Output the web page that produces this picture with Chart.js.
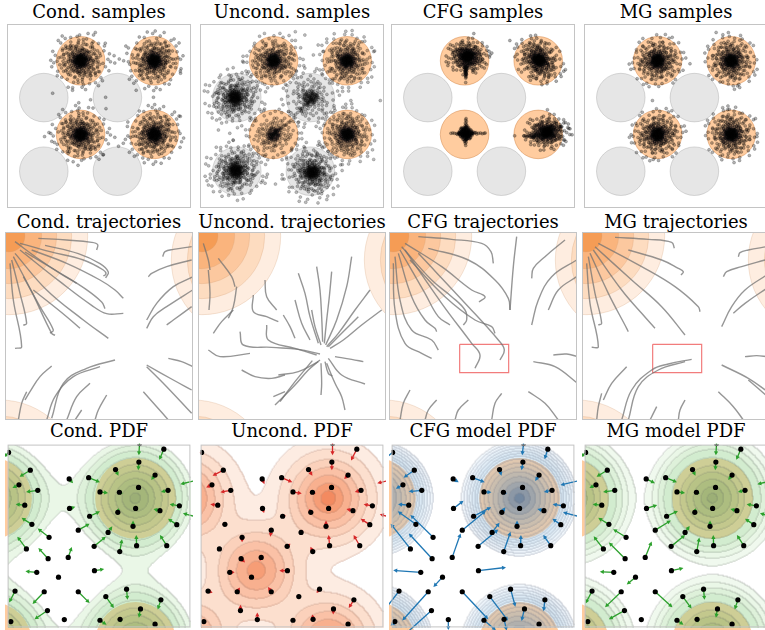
<!DOCTYPE html>
<html>
<head>
<meta charset="utf-8">
<title>Guidance comparison</title>
<script src="https://cdn.jsdelivr.net/npm/chart.js@4.4.1/dist/chart.umd.min.js"></script>
<style>
  html, body { margin: 0; padding: 0; background: #fff; }
  body { position: relative; width: 765px; height: 630px; overflow: hidden; font-family: "DejaVu Serif", serif; }
  .panel { position: absolute; width: 188px; height: 188px; }
  .panel canvas { display: block; }
  .title { position: absolute; width: 240px; text-align: center; font-size: 18px; line-height: 20px; color: #000; white-space: nowrap; }
</style>
</head>
<body>
<script>
const TITLES = [
  ["Cond. samples", "Uncond. samples", "CFG samples", "MG samples"],
  ["Cond. trajectories", "Uncond. trajectories", "CFG trajectories", "MG trajectories"],
  ["Cond. PDF", "Uncond. PDF", "CFG model PDF", "MG model PDF"]
];

// ---------- row 1: samples in the 2-D data space (units 0..5) ----------
const COND_MODES = [[2, 4], [4, 4], [2, 2], [4, 2]];
const OTHER_MODES = [[1, 3], [3, 3], [1, 1], [3, 1]];
const MODE_RADIUS = 0.66;

// one generic sample cloud, offsets in hundredths of a unit
const CLOUD = [
  [0,0],[3,-2],[-4,3],[6,5],[-7,-4],[2,8],[-2,-9],[9,-1],[-10,1],[5,-7],
  [-6,7],[11,4],[-12,-3],[1,12],[-1,-13],[8,9],[-9,-8],[12,-6],[-13,6],[4,1],
  [-3,-1],[7,-11],[-8,11],[13,10],[-11,-12],[0,5],[2,-5],[-5,0],[10,-9],[-1,10],
  [6,12],[-7,-13],[14,-2],[-14,2],[3,14],[-4,-14],[9,3],[-9,-2],[4,-10],[-5,9],
  [1,-3],[-2,2],[12,7],[-12,-7],[7,-4],[-6,4],[15,-8],[-15,9],[8,14],[-8,-15],
  [3,6],[-4,-6],[11,-13],[-10,12],[2,-15],[-3,15],[16,2],[-16,-1],[5,3],[-5,-3],
  [1,1],[-1,-2],[4,-4],[-4,5],[7,2],[-7,-1],[2,-7],[-3,8],[10,6],[-10,-5],
  [6,-9],[-6,10],[12,1],[-12,0],[0,-11],[1,11],[8,-6],[-8,7],[5,10],[-5,-10],
  [20,5],[-22,-6],[18,-14],[-17,15],[5,24],[-6,-23],[25,-8],[-24,9],[12,21],[-13,-22],
  [26,14],[-25,-13],[8,-27],[-9,28],[21,19],[-20,-21],[30,2],[-29,-3],[3,31],[-2,-30],
  [17,-25],[-18,26],[27,-17],[-28,16],[14,-31],[-15,30],[31,11],[-32,-10],[22,-21],[-23,22],
  [6,-19],[-7,19],[19,8],[-18,-9],[33,-4],[-33,5],[10,33],[-11,-32],[24,26],[-26,-24],
  [16,-18],[-16,20],[28,22],[-30,-20],[4,-34],[-5,34],[34,-14],[-34,13],[20,-29],[-21,30],
  [29,-25],[-27,27],[13,17],[-14,-18],[23,4],[-21,2],[0,-22],[1,21],[-19,-16],[17,17],
  [35,6],[-35,-7],[9,-24],[-10,25],[26,-1],
  [40,10],[-42,-8],[38,-22],[-36,24],[12,44],[-14,-43],[45,-5],[-44,6],[25,38],[-27,-37],
  [47,20],[-46,-21],[6,-48],[-7,49],[36,35],[-38,-33],[50,-12],[-51,11],[18,-46],[-20,47],
  [41,-34],[-40,36],[-2,52],[3,-53],[55,3],[-54,-4],[30,-44],[-31,45],[48,30],[-47,-30],
  [15,55],[-16,-54],[57,-20],[-56,19],[36,-50],[-37,50],[-58,-12],[58,14],[26,52],[-25,-53],
  [44,-40],[-45,41],[60,-2],[-60,1],[10,-58]
];

// clusters: [centre x, centre y, spread x, spread y, rotation in degrees]; two draws per mode
const COND_CLUSTERS = [
  [2, 4, 1.35, 1.35, 0], [2, 4, 0.95, 0.95, 137], [4, 4, 1.35, 1.35, 90], [4, 4, 0.95, 0.95, 227],
  [2, 2, 1.35, 1.35, 180], [2, 2, 0.95, 0.95, 317], [4, 2, 1.35, 1.35, 270], [4, 2, 0.95, 0.95, 47]];
const COND_STRAY = [[2.40,4.77],[2.67,4.48],[3.23,4.40],[2.91,4.14],[3.05,4.05],[3.17,4.00],[2.93,3.94],[3.51,3.20],
  [3.98,3.01],[2.68,3.01],[2.69,2.70],[2.27,2.94],[1.95,2.86],[1.78,3.20],[1.24,3.12],[4.04,2.66],[4.71,2.49],
  [1.02,1.94],[1.14,2.05],[1.29,1.78],[2.93,1.92],[3.16,1.76],[3.03,1.68],[1.64,1.54],[1.93,1.16],[2.62,1.45],
  [3.69,1.36],[4.80,1.90],[4.71,3.72],[1.36,3.99]];

const UNCOND_CLUSTERS = [
  [2, 4, 1.35, 1.35, 45], [2, 4, 0.95, 0.95, 200], [4, 4, 1.35, 1.35, 135], [4, 4, 0.95, 0.95, 290],
  [2, 2, 1.25, 1.25, 225], [4, 2, 1.35, 1.35, 315], [4, 2, 0.95, 0.95, 100],
  [0.95, 3.0, 1.4, 1.4, 30], [0.95, 3.0, 0.95, 0.95, 250], [3, 3, 1.35, 1.35, 120],
  [0.97, 1.02, 1.4, 1.4, 210], [0.97, 1.02, 0.95, 0.95, 70], [3.05, 0.97, 1.4, 1.4, 300], [3.05, 0.97, 0.95, 0.95, 160]];
const UNCOND_STREAK = [[1.72,1.78],[1.78,1.82],[1.83,1.86],[1.88,1.90],[1.92,1.93],[1.96,1.97],[2.00,2.00],[2.03,2.04],
  [2.07,2.06],[2.10,2.10],[2.14,2.12],[2.18,2.16],[2.22,2.19],[2.26,2.22],[2.30,2.25],[2.34,2.27],[1.90,1.95],[1.95,1.90],
  [2.05,2.10],[2.10,2.03],[2.15,2.18],[2.20,2.12],[2.00,1.94],[1.94,2.00],[2.40,2.33],[2.47,2.38],[2.55,2.45],[2.60,2.55],
  [2.66,2.60],[2.72,2.66],[2.78,2.70],[2.84,2.76],[2.90,2.80],[2.95,2.86],[3.00,2.90],[3.04,2.95],[3.08,2.98],[3.12,3.02],
  [3.16,3.05],[3.20,3.10],[2.88,2.85],[2.93,2.78],[3.00,2.96],[3.05,2.90],[3.10,3.08],[2.82,2.82],[2.98,3.02],[3.14,2.98],
  [2.70,2.72],[2.76,2.64]];
const UNCOND_STRAY = [[2.59,4.79],[2.85,4.70],[3.21,4.43],[3.08,4.16],[3.34,4.25],[1.16,3.99],[0.85,3.59],[0.59,3.41],
  [1.25,3.72],[1.74,3.81],[0.45,2.39],[0.50,2.12],[0.81,2.03],[0.90,1.85],[0.72,1.68],[0.99,1.41],[1.79,1.45],[0.28,0.92],
  [0.19,0.74],[1.70,0.74],[1.83,0.92],[2.05,0.65],[2.23,0.79],[3.56,3.72],[3.83,3.54],[3.88,2.74],[4.10,2.92],[3.30,1.68],
  [3.48,1.54],[4.72,1.32],[4.90,2.92],[4.72,4.25],[2.05,1.68],[2.23,1.50],[2.85,1.63]];

const CFG_CLUSTERS = [
  [2.08, 4.12, 1.0, 0.85, 15], [2.08, 4.12, 0.7, 0.6, 160],
  [4.02, 4.02, 1.25, 1.0, -35], [4.02, 4.02, 0.9, 0.75, 120],
  [2.03, 2.03, 0.3, 0.3, 0],
  [4.24, 2.06, 1.05, 0.85, 10], [4.24, 2.06, 0.7, 0.6, 200]];
// sharpened shapes around three of the modes (hundredths, relative to the anchor)
const CFG_SPIKE = [[0,-10],[3,-12],[-3,-14],[1,-16],[-2,-18],[4,-20],[0,-21],[-4,-22],[2,-24],[-1,-26],[3,-28],[0,-30],
  [-2,-31],[1,-33],[2,-36],[-1,-38],[0,-40],[1,-43],[0,-46],[5,-15],[-5,-17],[6,-12],[-6,-10],[2,-19],[-2,-27],[1,-23],
  [-1,-29],[0,-35]];
const CFG_CROSS = [[0,12],[2,16],[-2,20],[1,24],[-1,28],[2,32],[0,36],[1,40],[-3,14],[3,22],[0,-12],[2,-16],[-2,-20],
  [1,-24],[-1,-28],[0,-33],[3,-14],[-3,-22],[12,0],[16,2],[20,-1],[25,1],[30,-2],[35,0],[40,1],[45,-1],[50,0],[53,1],
  [14,-3],[22,3],[28,2],[-12,0],[-16,-2],[-20,1],[-25,-1],[-30,0],[-35,1],[-40,0],[-14,3],[-22,-3],[8,8],[-8,-8],
  [10,-6],[-6,10],[7,-10],[-10,5],[1,18],[0,-18],[18,0],[-18,0]];
const CFG_TAIL = [[-20,-5],[-25,-6],[-30,-7],[-35,-7],[-40,-7],[-45,-8],[-50,-7],[-55,-7],[-22,-2],[-28,-9],[-33,-4],
  [-38,-10],[-42,-5],[-30,-12],[-24,2],[-20,-10],[-15,-4],[-18,0]];
const CFG_SHAPES = [[[2.03, 3.99], CFG_SPIKE], [[2.03, 2.03], CFG_CROSS], [[4.16, 2.03], CFG_TAIL]];
const CFG_STRAY = [[2.25,4.74],[3.23,4.55],[2.74,4.21],[2.69,4.16],[4.74,3.76],[2.03,3.41],[4.25,2.67],[4.74,2.32],
  [4.83,2.16],[4.92,1.99],[4.69,1.85],[3.36,1.96],[4.60,2.21]];

const MG_CLUSTERS = [
  [2, 4, 1.25, 1.25, 60], [2, 4, 0.9, 0.9, 190], [4, 4, 1.25, 1.25, 150], [4, 4, 0.9, 0.9, 280],
  [2, 2, 1.25, 1.25, 240], [2, 2, 0.9, 0.9, 10], [4, 2, 1.25, 1.25, 330], [4, 2, 0.9, 0.9, 100]];
const MG_STRAY = [[3.59,4.77],[2.88,3.92],[1.86,2.92],[1.28,1.99],[4.66,2.43],[4.70,1.94],[4.17,3.32],[1.88,1.32],
  [3.90,2.67],[4.12,2.74]];

// ---------- row 2: trajectories, zoomed view (units 0..56.4, y down) ----------
const FLOW_RINGS = [
  { c: [1.2, 1.2], r: [23.6, 18.8, 14.3, 9.8, 4.8] },
  { c: [73.5, 8.4], r: [23.6, 18.8] },
  { c: [-1.5, 74], r: [23.6, 18.8] }
];
const RING_COLORS = ['#feede0', '#fddcc0', '#fcc89f', '#fab47d', '#f59c55'];

const COND_PATHS = [
  [[10,1.9],[18.5,2.4],[26,3.1],[27.8,3.8],[27.5,5.4]],
  [[4.5,3.4],[13.5,5.9],[23.5,8.4],[29.5,11.4],[30.3,12.6],[29.5,13.2]],
  [[12,4],[22,6.5],[28.5,9.5],[31,12],[30.2,13.8]],
  [[8,5.4],[18.5,9.4],[28.5,14.4],[33,17.4],[35.5,19.9]],
  [[3,2.9],[10.5,8.4],[16.5,12.4],[21.5,15.4]],
  [[6,6],[16,12],[24,17],[29,21],[30,23]],
  [[4.5,5.4],[16.5,14.9],[26,22],[30.5,24.5],[35.5,24.4]],
  [[3,6.4],[12.5,17.4],[23.5,26.4],[31,31.9]],
  [[2.5,7.4],[8,17.9],[14,30.4],[15,31]],
  [[2,8.4],[4.5,18.4],[6.5,27.4],[5.5,28]],
  [[1.5,9.4],[2.5,20.4],[5,34.4],[3,34.9]],
  [[8.5,17.4],[18.5,25.4],[22.5,28.9]],
  [[5.5,13.4],[10.5,22.4],[14.5,29.4],[13.5,30.4]],
  [[56,4.4],[50.5,5.2],[48,5.9],[47.3,7.4]],
  [[56,8.4],[48.5,10.4],[44,12.4],[43,13.4]],
  [[56.5,13.4],[50.5,16.4],[45.5,21.4],[42.5,26.4]],
  [[56.3,17.4],[48.5,22.4],[44.5,25.4],[42.5,28.9]],
  [[56,22.4],[50.5,26.4],[48.5,27.9]],
  [[42.5,39.9],[50.5,44.4],[56,47.4]],
  [[49,37.9],[53,38.9],[56.3,40.4]],
  [[42.5,40.4],[48.5,46.4],[56,54.4]],
  [[41.5,47.9],[45.5,52.4],[49,56.4]],
  [[33,38.4],[24.5,40.9],[17.5,45.4],[14,55.9]],
  [[28.5,40.4],[20.5,43.4],[15,49.4],[12.5,56.4]],
  [[14,40.2],[10.5,43.4],[7.5,47.9],[6,50.4]],
  [[6.5,47.9],[5,51.4],[4,56.4]],
  [[25.5,45.4],[21.5,49.4],[18.5,56.4]],
  [[30.5,48.9],[28,53.4],[27,56.4]],
  [[23,53.4],[21,56.4]]
];
const UNCOND_PATHS = [
  [[1.6,3.4],[3.1,8.4],[3.6,11.4]],
  [[3.1,11.4],[3.6,18.4],[3.3,23.4]],
  [[6.1,7.9],[10.1,13.4],[11.1,16.4]],
  [[11.6,16.4],[10.6,22.4],[9.1,25.9]],
  [[4.6,30.4],[7.1,26.9],[10.6,23.4]],
  [[20.1,14.4],[20.6,19.4],[23.6,23.4]],
  [[16.6,18.9],[16.6,23.9],[20.6,25.4],[24.1,26.9]],
  [[25.6,24.9],[27.6,28.4],[29.1,31.9]],
  [[12.6,29.9],[13.6,33.9],[22.1,34.6],[30.1,35.2],[36.6,36.6]],
  [[3.1,35.4],[6.6,37.4],[15.6,36.4]],
  [[13.1,41.4],[17.1,43.4],[22.1,43.9],[26.1,42.9]],
  [[20.6,27.9],[21.1,32.4],[29.1,34.9],[35.6,36.9]],
  [[24.1,42.9],[30.1,41.9],[36.1,38.9]],
  [[26.1,47.9],[22.6,49.4]],
  [[23.1,51.9],[29.1,45.9],[33.1,41.4],[36.6,38.4]],
  [[29.1,20.4],[31.1,27.4],[33.6,32.4]],
  [[30.1,12.4],[32.1,18.4],[33.6,25.4],[36.1,33.4]],
  [[34.1,23.4],[35.1,28.4],[36.9,33.9]],
  [[35.6,10.4],[36.6,17.4],[37.1,25.4],[37.4,32.9]],
  [[40.1,11.9],[39.4,19.4],[38.6,26.4],[37.9,33.4]],
  [[46.1,7.4],[44.6,16.4],[41.6,26.4],[38.3,33.9]],
  [[51.6,17.4],[47.1,23.4],[42.1,30.4],[38.6,34.4]],
  [[48.1,25.4],[43.1,30.4],[39.1,34.4]],
  [[55.1,23.4],[49.1,27.9],[43.6,32.4],[39.6,34.9]],
  [[41.1,37.4],[46.1,38.2],[49.6,38.9]],
  [[39.1,37.9],[43.1,42.9],[50.1,45.6]],
  [[38.6,39.4],[41.1,45.4],[43.1,49.4],[44.1,53.4]],
  [[36.9,39.4],[37.1,45.4],[36.9,48.9]],
  [[38.1,38.9],[39.1,42.4],[40.3,43.2]],
  [[34.3,38.6],[29.1,44.9],[24.6,50.9]]
];
const CFG_PATHS = [
  [[8.8,1.4],[18.8,2.2],[27.8,3.4],[30.6,5.9],[31.3,9.4]],
  [[11.8,4.9],[23.8,8.4],[31.8,14.4],[35.8,19.9],[36.3,23.4]],
  [[4.8,3.4],[15.8,10.4],[24.8,17.4],[28.8,19.4],[27,21]],
  [[3.8,4.4],[12.8,14.4],[18.8,19.4],[22.8,23.4],[23.3,26.4],[22.3,27.9]],
  [[6.3,8.4],[16.8,19.4],[25.8,26.4],[30.8,28.4],[31.8,30.4]],
  [[3.3,5.4],[10.8,18.4],[14.8,25.4],[18.3,27.9]],
  [[2.8,6.4],[6.8,19.4],[10.8,26.4],[13.8,28.9],[14.3,29.9]],
  [[1.8,7.4],[3.3,20.4],[6.8,29.4],[12.8,32.4],[14.8,35.4]],
  [[1.3,9.4],[1.8,23.4],[4.8,33.4],[9.8,36.4],[12.8,37.9]],
  [[4.8,5.4],[15.8,21.4],[24.8,33.4],[27.3,36.9],[25.8,40.9]],
  [[8.8,6.4],[23.8,22.4],[32.8,32.4],[34.6,35.4],[33.3,38.4]],
  [[52.8,2.4],[46.8,7.4],[43.3,10.9],[42.8,13.9]],
  [[56.3,8.4],[48.8,13.4],[44.8,20.4],[42.8,27.9]],
  [[56.3,13.4],[50.8,17.4],[47.8,23.4]],
  [[49.3,36.9],[53.3,36.6],[56.6,37.4]],
  [[43.3,38.9],[49.8,40.4],[56.6,45.4]],
  [[41.8,47.9],[46.8,51.4],[50.8,56.4]],
  [[6.3,47.4],[4.3,51.4],[3.3,56.4]],
  [[14.3,50.4],[11.8,53.4],[10.8,56.4]],
  [[23.8,50.4],[20.8,53.4],[19.8,56.4]],
  [[33.8,48.4],[31.8,51.4],[30.8,56.4]],
  [[38.3,1.4],[37.3,10.4],[36.3,23.4]]
];
const MG_PATHS = [
  [[9.9,1.6],[19.9,2.2],[26.9,3.1],[27.7,4.9]],
  [[13.9,5.4],[23.9,8.4],[28.9,10.9],[30.4,11.9],[29.7,12.9]],
  [[4.9,3.4],[17.9,10.4],[27.9,16.4],[34.9,22.4],[35.4,23.9]],
  [[3.9,4.4],[14.9,14.4],[23.9,22.4],[30.9,30.9]],
  [[3.4,5.4],[11.9,17.4],[17.9,24.4],[21.9,28.9]],
  [[2.4,6.4],[7.9,18.4],[13.4,28.9],[13.9,29.9]],
  [[1.9,7.4],[3.9,18.4],[5.9,27.4],[4.9,27.9]],
  [[1.4,9.4],[2.4,21.4],[4.9,34.4],[2.9,34.6]],
  [[55.4,4.4],[49.9,5.4],[47.4,6.2],[46.9,7.4]],
  [[54.9,8.4],[47.9,10.4],[43.4,11.9],[42.4,13.4]],
  [[55.4,12.9],[48.9,17.4],[44.9,22.4],[41.9,28.4]],
  [[55.4,16.9],[48.9,21.4],[45.4,24.4]],
  [[48.9,37.4],[52.4,37.1],[55.7,37.4]],
  [[41.9,39.9],[49.9,43.9],[55.7,47.9]],
  [[49.9,44.4],[55.7,49.4]],
  [[40.9,47.9],[45.4,52.4],[48.4,56.4]],
  [[32.9,38.2],[25.9,39.6],[20.9,41.4],[14.9,47.4],[11.9,56.4]],
  [[30.9,38.9],[22.9,41.4],[16.9,46.4],[13.9,56.4]],
  [[13.4,40.4],[8.9,45.4],[6.4,50.4]],
  [[5.9,48.4],[4.9,52.4],[4.4,56.4]],
  [[30.9,50.4],[29.4,53.4],[28.9,56.4]],
  [[22.4,52.4],[20.4,56.4]]
];
const ZOOM_BOX = [[21.2,33.7],[35.9,33.7],[35.9,42.2],[21.2,42.2],[21.2,33.7]];

// ---------- row 3: densities and score arrows (units 0..56.4, y down) ----------
// [x, y, weight]
const PDF_COND_MODES = [[39.5,16.6,1],[-5,16.6,1],[39.5,61.1,1],[-5,61.1,1]];
const PDF_OTHER_MODES = [[17.25,38.85,0.9],[-27.25,38.85,0.9],[17.25,83.35,0.9],[-27.25,83.35,0.9]];
const DISK_RADIUS = 12.5;

const PROBES = [[0.3,2.4],[7.0,7.9],[3.5,12.4],[9.3,14.1],[5.3,18.7],[7.5,24.6],[12.8,28.6],[12.5,35.2],[5.8,32.2],
  [19.0,10.6],[19.1,19.7],[21.8,26.4],[18.7,34.8],[15.7,40.9],[26.8,38.9],[9.0,39.4],[2.3,45.2],[11.3,45.4],[21.8,45.4],
  [12.3,51.2],[1.0,54.6],[17.5,54.0],[25.0,10.2],[28.5,14.6],[34.5,14.7],[33.3,7.7],[40.5,5.4],[40.7,-0.3],[48.2,1.4],
  [45.5,9.4],[49.5,14.1],[57.5,11.2],[39.5,19.7],[47.0,20.4],[53.0,18.9],[57.8,22.2],[52.2,24.7],[49.1,31.2],[39.8,31.2],
  [38.7,25.2],[34.6,33.0],[34.0,20.9],[25.3,22.1],[26.7,31.4],[31.0,27.1],[36.7,44.6],[47.3,47.9],[41.0,50.7],[30.3,46.9],
  [28.5,54.2],[34.7,53.9],[45.5,55.4],[40.4,13.2]];

const COND_SCORE = [[-1.5,1.5],[-3.3,2.0],[-2.0,1.0],[-3.6,0.5],[-2.8,-0.3],[-3.2,-2.0],[-3.5,-2.7],[-3.0,-3.3],[-2.8,-3.8],
  [1.2,1.3],[1.8,-0.5],[3.5,-2.0],[1.1,-3.2],[-0.4,0.4],[3.0,-0.5],[-3.5,-0.3],[-1.8,3.5],[-3.6,3.8],[3.5,3.5],
  [-4.0,2.7],[-0.5,0.5],[0,0.5],[3.5,1.4],[2.5,0.3],[1.0,0.5],[0.9,1.9],[-0.2,2.5],[-0.2,3.6],[-1.4,3.3],
  [-1.2,1.5],[-2.2,0.5],[-4.2,1.0],[0,-0.5],[-2.0,-0.5],[-3.0,-0.5],[-3.7,-1.0],[-2.7,-1.8],[-2.1,-3.3],[-0.1,-3.3],
  [0,-1.8],[0.7,-3.8],[0.3,-1.3],[3.2,-1.5],[3.6,-3.0],[1.3,-1.9],[0.3,3.3],[-1.0,3.0],[-0.5,2.7],[2.5,3.5],
  [2.0,1.4],[0.3,1.0],[0,-0.5],[0,0.6]];
const UNCOND_SCORE = [[0,0.5],[-3.3,1.7],[-1.8,0.8],[-3.2,0.6],[-2.3,-0.3],[-0.8,0],[0,1.5],[1.2,1.2],[0.5,0.2],
  [0.7,1.6],[0.5,1.4],[-0.3,2.0],[-0.4,1.0],[0.3,-0.7],[-2.5,0],[1.5,0],[1.4,0.5],[0.8,-1.3],[-1.0,-1.5],
  [0,-1.8],[0.3,-0.3],[0,-2.2],[3.3,1.4],[2.7,0.5],[1.0,0.5],[1.2,1.9],[0,2.5],[0,3.6],[-1.8,3.5],
  [-1.2,1.2],[-1.9,0.5],[-3.0,0.7],[0,-0.5],[-2.0,-0.5],[-2.7,-0.5],[-2.5,-0.7],[-2.8,-1.8],[-1.9,-3.3],[-0.3,-3.3],
  [0,-1.8],[-0.7,-1.5],[-0.5,-1.0],[1.0,-0.2],[1.0,-0.8],[0.3,-0.8],[-0.9,1.2],[-1.6,2.5],[-0.1,1.7],[-0.6,-0.4],
  [0.3,-0.3],[-0.2,-1.5],[0,-0.5],[0,0.6]];
const CFG_SCORE = [[-3.0,2.5],[-3.3,2.3],[-2.2,1.2],[-4.0,0.4],[-3.3,-0.3],[-5.6,-4.0],[-7.0,-6.9],[-7.2,-7.8],[-6.1,-7.8],
  [1.7,1.0],[3.1,-2.4],[7.3,-6.0],[2.6,-7.4],[-2.8,3.0],[8.5,-1.0],[-8.5,-0.6],[-5.0,6.5],[-8.0,8.9],[8.0,8.5],
  [-8.0,7.2],[-1.3,1.3],[0,3.2],[3.7,1.4],[2.3,0.1],[1.0,0.5],[0.6,1.9],[-0.4,2.5],[-0.4,3.6],[-1.0,3.1],
  [-1.2,1.8],[-2.5,0.5],[-5.4,1.3],[0,-0.5],[-2.0,-0.5],[-3.3,-0.5],[-4.9,-1.3],[-2.6,-1.8],[-2.3,-3.3],[0.1,-3.3],
  [0,-1.8],[2.1,-6.1],[1.1,-1.6],[5.4,-2.8],[6.2,-5.2],[2.3,-3.0],[1.5,5.4],[-0.4,3.5],[-0.9,3.7],[5.6,7.4],
  [3.7,3.1],[0.8,3.5],[0,-0.5],[0,0.6]];
const MG_SCORE = [[-1.5,1.5],[-3.3,2.0],[-2.0,1.0],[-3.6,0.5],[-2.8,-0.3],[-3.3,-2.0],[-4.0,-2.5],[-5.0,-5.0],[-3.0,-3.9],
  [2.7,1.3],[3.3,-1.1],[4.8,-3.0],[2.0,-4.9],[-2.7,2.3],[3.7,-0.8],[-4.3,-0.2],[-2.0,3.8],[-5.0,4.8],[5.3,4.8],
  [-4.8,2.7],[-0.5,0.5],[0,0.5],[3.5,1.4],[2.5,0.3],[1.0,0.5],[0.9,1.9],[-0.2,2.5],[-0.2,3.6],[-1.4,3.3],
  [-1.2,1.5],[-2.2,0.5],[-4.2,1.0],[0,-0.5],[-2.0,-0.5],[-3.0,-0.5],[-3.7,-1.0],[-2.7,-1.8],[-2.1,-3.3],[-0.1,-3.3],
  [0,-1.8],[0.8,-4.3],[0.3,-1.3],[3.5,-1.6],[4.3,-3.5],[1.4,-2.0],[0.3,3.3],[-1.0,3.0],[-0.5,2.7],[2.7,3.7],
  [2.0,1.4],[0.3,1.0],[0,-0.5],[0,0.6]];

// contour levels: radius of each level around a lone mode, outer to inner
const COND_LEVEL_RADII = [18, 16.2, 14.5, 12.5, 10.3, 8.2, 6, 4, 1.5];
const MG_LEVEL_RADII = [20.5, 18.5, 16.8, 15, 12.5, 10, 8, 5.8, 3.5, 1.5];
const CFG_LEVEL_RADII = [17.7, 16.9, 16.1, 15.3, 14.5, 13.7, 12.9, 12.0, 10.8, 9.5, 8.1, 6.6, 5.0, 3.3, 1.5];
// unconditional density: levels given as density values
const UNCOND_LEVELS = [0.055, 0.17, 0.33, 0.5, 0.68, 0.85, 0.96];

const GREEN_BANDS = [[205,235,198,0.42],[186,226,178,0.48],[166,218,160,0.5],[146,208,140,0.45],[122,196,120,0.45],
  [98,184,104,0.45],[74,170,90,0.45],[54,156,78,0.45],[36,140,68,0.45]];
const MG_BANDS = [[218,241,212,0.4]].concat(GREEN_BANDS);
const BLUE_BANDS = [[222,235,247,0.45],[212,228,244,0.45],[200,221,240,0.45],[188,214,236,0.45],[176,207,231,0.45],
  [164,200,226,0.45],[150,192,222,0.34],[136,184,218,0.27],[120,174,212,0.3],[104,163,206,0.34],[88,152,200,0.38],
  [70,138,194,0.42],[52,122,184,0.47],[34,104,172,0.52],[16,86,158,0.58]];
const RED_BANDS = [[253,236,226,1],[252,223,206,1],[251,209,187,1],[250,193,166,1],[248,176,143,1],[246,157,118,1],[243,138,96,1]];

// ---------- layout ----------
const COL_LEFT = [5, 198, 389, 582];
const ROW_TOP = [22, 232, 442];
const TITLE_TOP = [2, 212, 421];
const SIZE = 188;
const SAMPLE_RANGE = [0, 5];
const VIEW_RANGE = [0, 56.4];

const toPts = arr => arr.map(([x, y]) => ({ x, y }));

function placeCloud(spec, offsets) {
  const [cx, cy, sx, sy, deg] = spec;
  const a = deg * Math.PI / 180, c = Math.cos(a), s = Math.sin(a);
  return offsets.map(([ox, oy]) => {
    const u = ox * sx / 100, v = oy * sy / 100;
    return { x: cx + u * c - v * s, y: cy + u * s + v * c };
  });
}
function anchorCloud(anchor, offsets) {
  return offsets.map(([ox, oy]) => ({ x: anchor[0] + ox / 100, y: anchor[1] + oy / 100 }));
}

const framePlugin = {
  id: 'frame',
  afterDraw(chart) {
    const { ctx, chartArea: a } = chart;
    ctx.save();
    ctx.strokeStyle = '#c4c4c4';
    ctx.lineWidth = 1;
    ctx.strokeRect(a.left + 0.5, a.top + 0.5, a.width - 1, a.height - 1);
    ctx.restore();
  }
};

// mode disks under the samples
const modePlugin = {
  id: 'modes',
  beforeDatasetsDraw(chart) {
    const { ctx, scales: { x, y } } = chart;
    const disk = (list, fill, edge) => {
      for (const [cx, cy] of list) {
        const px = x.getPixelForValue(cx), py = y.getPixelForValue(cy);
        const r = Math.abs(x.getPixelForValue(cx + MODE_RADIUS) - px);
        ctx.beginPath();
        ctx.arc(px, py, r, 0, Math.PI * 2);
        ctx.fillStyle = fill; ctx.fill();
        ctx.strokeStyle = edge; ctx.lineWidth = 0.8; ctx.stroke();
      }
    };
    ctx.save();
    disk(OTHER_MODES, 'rgba(128,128,128,0.2)', 'rgba(128,128,128,0.35)');
    disk(COND_MODES, 'rgba(255,127,14,0.4)', 'rgba(205,120,50,0.55)');
    ctx.restore();
  }
};

// density rings behind the trajectories
const ringPlugin = {
  id: 'rings',
  beforeDatasetsDraw(chart) {
    const { ctx, scales: { x, y } } = chart;
    ctx.save();
    for (const ring of FLOW_RINGS) {
      const px = x.getPixelForValue(ring.c[0]), py = y.getPixelForValue(ring.c[1]);
      ring.r.forEach((r, k) => {
        const pr = Math.abs(x.getPixelForValue(ring.c[0] + r) - px);
        ctx.beginPath();
        ctx.arc(px, py, pr, 0, Math.PI * 2);
        ctx.fillStyle = RING_COLORS[k]; ctx.fill();
        ctx.strokeStyle = 'rgba(210,160,120,0.35)'; ctx.lineWidth = 0.8; ctx.stroke();
      });
    }
    ctx.restore();
  }
};

function over(top, bottom) {
  if (!bottom) return top;
  const a = top[3] + bottom[3] * (1 - top[3]);
  const f = i => (top[i] * top[3] + bottom[i] * bottom[3] * (1 - top[3])) / a;
  return [f(0), f(1), f(2), a];
}

function drawArrow(ctx, x0, y0, x1, y1) {
  const dx = x1 - x0, dy = y1 - y0, L = Math.hypot(dx, dy);
  if (L < 0.5) return;
  const ux = dx / L, uy = dy / L, hl = Math.min(4, L * 0.7), hw = 2.1;
  ctx.beginPath();
  ctx.moveTo(x0, y0);
  ctx.lineTo(x1 - ux * hl * 0.7, y1 - uy * hl * 0.7);
  ctx.stroke();
  ctx.beginPath();
  ctx.moveTo(x1, y1);
  ctx.lineTo(x1 - ux * hl - uy * hw, y1 - uy * hl + ux * hw);
  ctx.lineTo(x1 - ux * hl + uy * hw, y1 - uy * hl - ux * hw);
  ctx.closePath();
  ctx.fill();
}

// filled contours of a mixture density, plus the score arrows at the probe points
function densityPlugin(spec) {
  return {
    id: 'density',
    beforeDatasetsDraw(chart) {
      const { ctx, chartArea: a, scales: { x, y } } = chart;
      const W = Math.round(a.width), H = Math.round(a.height);
      ctx.save();
      if (spec.disks) {
        ctx.fillStyle = 'rgb(255,204,159)';
        for (const [cx, cy] of spec.disks) {
          const px = x.getPixelForValue(cx), py = y.getPixelForValue(cy);
          const r = Math.abs(x.getPixelForValue(cx + DISK_RADIUS) - px);
          ctx.beginPath(); ctx.arc(px, py, r, 0, Math.PI * 2); ctx.fill();
        }
      }
      const inv = 1 / (2 * spec.sigma * spec.sigma);
      const levels = spec.levels || spec.radii.map(r => Math.exp(-r * r * inv));
      const idx = new Uint8Array(W * H);
      for (let j = 0; j < H; j++) {
        const vy = y.getValueForPixel(a.top + j + 0.5);
        for (let i = 0; i < W; i++) {
          const vx = x.getValueForPixel(a.left + i + 0.5);
          let d = 0;
          for (const [mx, my, w] of spec.modes) {
            const ex = vx - mx, ey = vy - my;
            d += w * Math.exp(-(ex * ex + ey * ey) * inv);
          }
          let k = 0;
          while (k < levels.length && d >= levels[k]) k++;
          idx[j * W + i] = k;
        }
      }
      const off = document.createElement('canvas');
      off.width = W; off.height = H;
      const octx = off.getContext('2d');
      const img = octx.createImageData(W, H);
      for (let j = 0; j < H; j++) {
        for (let i = 0; i < W; i++) {
          const p = j * W + i, k = idx[p];
          let c = k > 0 ? spec.colors[k - 1] : null;
          const edge = (i + 1 < W && idx[p + 1] !== k) || (j + 1 < H && idx[p + W] !== k);
          if (edge) c = over(spec.line, c);
          if (c) {
            img.data[4 * p] = c[0]; img.data[4 * p + 1] = c[1]; img.data[4 * p + 2] = c[2];
            img.data[4 * p + 3] = Math.round(c[3] * 255);
          }
        }
      }
      octx.putImageData(img, 0, 0);
      ctx.drawImage(off, a.left, a.top);

      ctx.strokeStyle = spec.arrowColor; ctx.fillStyle = spec.arrowColor;
      ctx.lineWidth = 1.3;
      PROBES.forEach(([px, py], n) => {
        const [dx, dy] = spec.arrows[n];
        drawArrow(ctx, x.getPixelForValue(px), y.getPixelForValue(py),
          x.getPixelForValue(px + dx), y.getPixelForValue(py + dy));
      });
      ctx.restore();
    }
  };
}

function addPanel(row, col, datasets, plugins, range, reverseY) {
  const wrap = document.createElement('div');
  wrap.className = 'panel';
  wrap.style.left = COL_LEFT[col] + 'px';
  wrap.style.top = ROW_TOP[row] + 'px';
  const cv = document.createElement('canvas');
  cv.width = SIZE; cv.height = SIZE;
  wrap.appendChild(cv);
  document.body.appendChild(wrap);
  const t = document.createElement('div');
  t.className = 'title';
  t.textContent = TITLES[row][col];
  t.style.left = (COL_LEFT[col] + SIZE / 2 - 120) + 'px';
  t.style.top = TITLE_TOP[row] + 'px';
  document.body.appendChild(t);
  return new Chart(cv, {
    type: 'scatter',
    data: { datasets },
    options: {
      responsive: false, animation: false, devicePixelRatio: 1, events: [],
      layout: { padding: 0 },
      plugins: { legend: { display: false }, tooltip: { enabled: false }, title: { display: false } },
      scales: {
        x: { type: 'linear', display: false, min: range[0], max: range[1] },
        y: { type: 'linear', display: false, min: range[0], max: range[1], reverse: reverseY }
      }
    },
    plugins: [...plugins, framePlugin]
  });
}

// ---------- row 1 ----------
function sampleSet(points, alpha) {
  return {
    data: points, pointRadius: 1.5, pointHoverRadius: 1.5,
    pointBackgroundColor: `rgba(0,0,0,${alpha})`,
    pointBorderColor: `rgba(0,0,0,${alpha + 0.12})`, pointBorderWidth: 0.5
  };
}
const condSamples = COND_CLUSTERS.flatMap(c => placeCloud(c, CLOUD)).concat(toPts(COND_STRAY));
const uncondSamples = UNCOND_CLUSTERS.flatMap(c => placeCloud(c, CLOUD)).concat(toPts(UNCOND_STREAK), toPts(UNCOND_STRAY));
const cfgSamples = CFG_CLUSTERS.flatMap(c => placeCloud(c, CLOUD))
  .concat(CFG_SHAPES.flatMap(([anchor, offs]) => anchorCloud(anchor, offs)), toPts(CFG_STRAY));
const mgSamples = MG_CLUSTERS.flatMap(c => placeCloud(c, CLOUD)).concat(toPts(MG_STRAY));

addPanel(0, 0, [sampleSet(condSamples, 0.3)], [modePlugin], SAMPLE_RANGE, false);
addPanel(0, 1, [sampleSet(uncondSamples, 0.26)], [modePlugin], SAMPLE_RANGE, false);
addPanel(0, 2, [sampleSet(cfgSamples, 0.32)], [modePlugin], SAMPLE_RANGE, false);
addPanel(0, 3, [sampleSet(mgSamples, 0.3)], [modePlugin], SAMPLE_RANGE, false);

// ---------- row 2 ----------
function pathSets(paths) {
  return paths.map(p => ({
    data: toPts(p), showLine: true, tension: 0.4, pointRadius: 0, pointHoverRadius: 0,
    borderColor: 'rgba(115,115,115,0.75)', borderWidth: 1.4, fill: false
  }));
}
const boxSet = () => ({
  data: toPts(ZOOM_BOX), showLine: true, tension: 0, pointRadius: 0,
  borderColor: '#f27c7c', borderWidth: 1.2, fill: false
});
addPanel(1, 0, pathSets(COND_PATHS), [ringPlugin], VIEW_RANGE, true);
addPanel(1, 1, pathSets(UNCOND_PATHS), [ringPlugin], VIEW_RANGE, true);
addPanel(1, 2, pathSets(CFG_PATHS).concat([boxSet()]), [ringPlugin], VIEW_RANGE, true);
addPanel(1, 3, pathSets(MG_PATHS).concat([boxSet()]), [ringPlugin], VIEW_RANGE, true);

// ---------- row 3 ----------
const dotSet = () => ({
  data: toPts(PROBES), pointRadius: 2.6, pointHoverRadius: 2.6,
  pointBackgroundColor: '#000', pointBorderWidth: 0
});
addPanel(2, 0, [dotSet()], [densityPlugin({
  modes: PDF_COND_MODES, sigma: 11.6, radii: COND_LEVEL_RADII, colors: GREEN_BANDS,
  line: [100, 110, 100, 0.3], disks: PDF_COND_MODES, arrows: COND_SCORE, arrowColor: '#2ca02c'
})], VIEW_RANGE, true);
addPanel(2, 1, [dotSet()], [densityPlugin({
  modes: PDF_COND_MODES.concat(PDF_OTHER_MODES), sigma: 8, levels: UNCOND_LEVELS, colors: RED_BANDS,
  line: [170, 120, 100, 0.35], disks: null, arrows: UNCOND_SCORE, arrowColor: '#d62728'
})], VIEW_RANGE, true);
addPanel(2, 2, [dotSet()], [densityPlugin({
  modes: PDF_COND_MODES, sigma: 8, radii: CFG_LEVEL_RADII, colors: BLUE_BANDS,
  line: [100, 110, 130, 0.3], disks: PDF_COND_MODES, arrows: CFG_SCORE, arrowColor: '#1f77b4'
})], VIEW_RANGE, true);
addPanel(2, 3, [dotSet()], [densityPlugin({
  modes: PDF_COND_MODES, sigma: 6.5, radii: MG_LEVEL_RADII, colors: MG_BANDS,
  line: [100, 110, 100, 0.3], disks: PDF_COND_MODES, arrows: MG_SCORE, arrowColor: '#2ca02c'
})], VIEW_RANGE, true);
</script>
</body>
</html>
